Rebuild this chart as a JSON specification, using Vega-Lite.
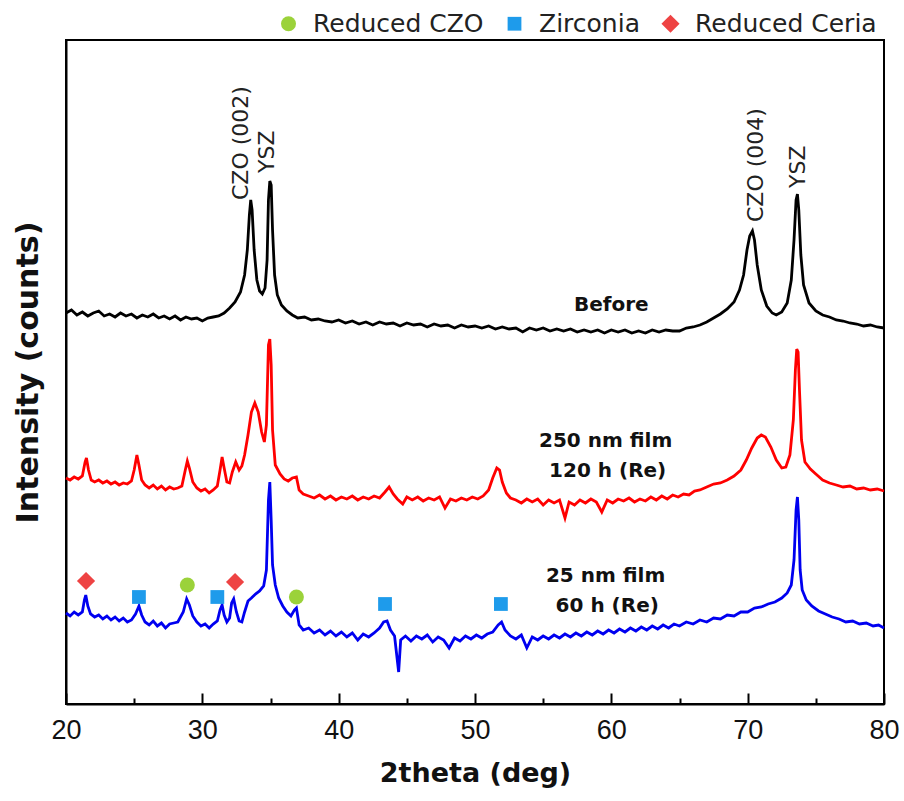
{
"$schema": "https://vega.github.io/schema/vega-lite/v6.json",
"width": 818, "height": 664,
"autosize": "none",
"padding": {"left": 66, "top": 40, "right": 20, "bottom": 97},
"background": "white",
"datasets": {
"curves": [
{"s":"Before","x":20.0,"y":391},{"s":"Before","x":20.4,"y":394},{"s":"Before","x":20.8,"y":389},{"s":"Before","x":21.2,"y":392},{"s":"Before","x":21.6,"y":388},{"s":"Before","x":22.0,"y":391},{"s":"Before","x":22.4,"y":393},{"s":"Before","x":22.8,"y":388},{"s":"Before","x":23.2,"y":390},{"s":"Before","x":23.6,"y":387},{"s":"Before","x":24.0,"y":391},{"s":"Before","x":24.4,"y":388},{"s":"Before","x":24.8,"y":390},{"s":"Before","x":25.2,"y":386},{"s":"Before","x":25.6,"y":389},{"s":"Before","x":26.0,"y":387},{"s":"Before","x":26.4,"y":390},{"s":"Before","x":26.8,"y":386},{"s":"Before","x":27.2,"y":388},{"s":"Before","x":27.6,"y":385},{"s":"Before","x":28.0,"y":388},{"s":"Before","x":28.4,"y":384},{"s":"Before","x":28.8,"y":387},{"s":"Before","x":29.2,"y":385},{"s":"Before","x":29.6,"y":386},{"s":"Before","x":30.0,"y":383},{"s":"Before","x":30.4,"y":386},{"s":"Before","x":30.8,"y":387},{"s":"Before","x":31.2,"y":388},{"s":"Before","x":31.6,"y":391},{"s":"Before","x":32.0,"y":396},{"s":"Before","x":32.4,"y":402},{"s":"Before","x":32.8,"y":412},{"s":"Before","x":33.1,"y":429},{"s":"Before","x":33.3,"y":454},{"s":"Before","x":33.45,"y":489},{"s":"Before","x":33.55,"y":504},{"s":"Before","x":33.65,"y":494},{"s":"Before","x":33.8,"y":454},{"s":"Before","x":34.0,"y":424},{"s":"Before","x":34.2,"y":413},{"s":"Before","x":34.4,"y":410},{"s":"Before","x":34.6,"y":416},{"s":"Before","x":34.75,"y":444},{"s":"Before","x":34.85,"y":504},{"s":"Before","x":34.95,"y":523},{"s":"Before","x":35.05,"y":519},{"s":"Before","x":35.15,"y":474},{"s":"Before","x":35.3,"y":429},{"s":"Before","x":35.5,"y":409},{"s":"Before","x":35.8,"y":399},{"s":"Before","x":36.2,"y":393},{"s":"Before","x":36.6,"y":389},{"s":"Before","x":37.0,"y":386},{"s":"Before","x":37.5,"y":387},{"s":"Before","x":38.0,"y":384},{"s":"Before","x":38.5,"y":385},{"s":"Before","x":39.0,"y":383},{"s":"Before","x":39.5,"y":382},{"s":"Before","x":40.0,"y":384},{"s":"Before","x":40.5,"y":381},{"s":"Before","x":41.0,"y":383},{"s":"Before","x":41.5,"y":380},{"s":"Before","x":42.0,"y":382},{"s":"Before","x":42.5,"y":379},{"s":"Before","x":43.0,"y":382},{"s":"Before","x":43.5,"y":380},{"s":"Before","x":44.0,"y":381},{"s":"Before","x":44.5,"y":378},{"s":"Before","x":45.0,"y":381},{"s":"Before","x":45.5,"y":379},{"s":"Before","x":46.0,"y":380},{"s":"Before","x":46.5,"y":377},{"s":"Before","x":47.0,"y":380},{"s":"Before","x":47.5,"y":378},{"s":"Before","x":48.0,"y":379},{"s":"Before","x":48.5,"y":376},{"s":"Before","x":49.0,"y":379},{"s":"Before","x":49.5,"y":377},{"s":"Before","x":50.0,"y":378},{"s":"Before","x":50.5,"y":376},{"s":"Before","x":51.0,"y":378},{"s":"Before","x":51.5,"y":375},{"s":"Before","x":52.0,"y":377},{"s":"Before","x":52.5,"y":375},{"s":"Before","x":53.0,"y":376},{"s":"Before","x":53.5,"y":372},{"s":"Before","x":54.0,"y":376},{"s":"Before","x":54.5,"y":374},{"s":"Before","x":55.0,"y":376},{"s":"Before","x":55.5,"y":373},{"s":"Before","x":56.0,"y":375},{"s":"Before","x":56.5,"y":373},{"s":"Before","x":57.0,"y":375},{"s":"Before","x":57.5,"y":372},{"s":"Before","x":58.0,"y":374},{"s":"Before","x":58.5,"y":372},{"s":"Before","x":59.0,"y":374},{"s":"Before","x":59.5,"y":371},{"s":"Before","x":60.0,"y":374},{"s":"Before","x":60.5,"y":372},{"s":"Before","x":61.0,"y":374},{"s":"Before","x":61.5,"y":371},{"s":"Before","x":62.0,"y":373},{"s":"Before","x":62.5,"y":371},{"s":"Before","x":63.0,"y":374},{"s":"Before","x":63.5,"y":372},{"s":"Before","x":64.0,"y":374},{"s":"Before","x":64.5,"y":373},{"s":"Before","x":65.0,"y":373},{"s":"Before","x":65.5,"y":376},{"s":"Before","x":66.0,"y":377},{"s":"Before","x":66.5,"y":379},{"s":"Before","x":67.0,"y":382},{"s":"Before","x":67.5,"y":386},{"s":"Before","x":68.0,"y":390},{"s":"Before","x":68.5,"y":395},{"s":"Before","x":69.0,"y":402},{"s":"Before","x":69.4,"y":414},{"s":"Before","x":69.7,"y":429},{"s":"Before","x":69.95,"y":454},{"s":"Before","x":70.15,"y":468},{"s":"Before","x":70.35,"y":473},{"s":"Before","x":70.5,"y":464},{"s":"Before","x":70.7,"y":439},{"s":"Before","x":71.0,"y":414},{"s":"Before","x":71.4,"y":398},{"s":"Before","x":71.8,"y":391},{"s":"Before","x":72.1,"y":389},{"s":"Before","x":72.5,"y":392},{"s":"Before","x":72.9,"y":401},{"s":"Before","x":73.2,"y":424},{"s":"Before","x":73.4,"y":464},{"s":"Before","x":73.55,"y":504},{"s":"Before","x":73.65,"y":510},{"s":"Before","x":73.75,"y":494},{"s":"Before","x":73.9,"y":449},{"s":"Before","x":74.1,"y":419},{"s":"Before","x":74.5,"y":401},{"s":"Before","x":75.0,"y":393},{"s":"Before","x":75.5,"y":389},{"s":"Before","x":76.0,"y":387},{"s":"Before","x":76.5,"y":384},{"s":"Before","x":77.0,"y":383},{"s":"Before","x":77.5,"y":381},{"s":"Before","x":78.0,"y":380},{"s":"Before","x":78.5,"y":378},{"s":"Before","x":79.0,"y":379},{"s":"Before","x":79.5,"y":377},{"s":"Before","x":80.0,"y":376},
{"s":"250 nm film","x":20.0,"y":226},{"s":"250 nm film","x":20.3,"y":224},{"s":"250 nm film","x":20.6,"y":227},{"s":"250 nm film","x":20.9,"y":225},{"s":"250 nm film","x":21.2,"y":228},{"s":"250 nm film","x":21.4,"y":242},{"s":"250 nm film","x":21.5,"y":246},{"s":"250 nm film","x":21.65,"y":234},{"s":"250 nm film","x":21.85,"y":224},{"s":"250 nm film","x":22.1,"y":222},{"s":"250 nm film","x":22.4,"y":224},{"s":"250 nm film","x":22.7,"y":221},{"s":"250 nm film","x":23.0,"y":223},{"s":"250 nm film","x":23.3,"y":220},{"s":"250 nm film","x":23.6,"y":222},{"s":"250 nm film","x":23.9,"y":219},{"s":"250 nm film","x":24.2,"y":221},{"s":"250 nm film","x":24.5,"y":220},{"s":"250 nm film","x":24.8,"y":223},{"s":"250 nm film","x":25.0,"y":234},{"s":"250 nm film","x":25.2,"y":249},{"s":"250 nm film","x":25.35,"y":239},{"s":"250 nm film","x":25.55,"y":224},{"s":"250 nm film","x":25.8,"y":219},{"s":"250 nm film","x":26.1,"y":216},{"s":"250 nm film","x":26.4,"y":219},{"s":"250 nm film","x":26.7,"y":215},{"s":"250 nm film","x":27.0,"y":218},{"s":"250 nm film","x":27.3,"y":214},{"s":"250 nm film","x":27.6,"y":217},{"s":"250 nm film","x":27.9,"y":215},{"s":"250 nm film","x":28.2,"y":216},{"s":"250 nm film","x":28.5,"y":218},{"s":"250 nm film","x":28.75,"y":234},{"s":"250 nm film","x":28.9,"y":243},{"s":"250 nm film","x":29.05,"y":236},{"s":"250 nm film","x":29.3,"y":222},{"s":"250 nm film","x":29.6,"y":216},{"s":"250 nm film","x":29.9,"y":213},{"s":"250 nm film","x":30.2,"y":215},{"s":"250 nm film","x":30.5,"y":211},{"s":"250 nm film","x":30.8,"y":214},{"s":"250 nm film","x":31.1,"y":218},{"s":"250 nm film","x":31.3,"y":234},{"s":"250 nm film","x":31.45,"y":247},{"s":"250 nm film","x":31.6,"y":236},{"s":"250 nm film","x":31.8,"y":222},{"s":"250 nm film","x":32.0,"y":221},{"s":"250 nm film","x":32.2,"y":232},{"s":"250 nm film","x":32.45,"y":242},{"s":"250 nm film","x":32.7,"y":234},{"s":"250 nm film","x":32.9,"y":238},{"s":"250 nm film","x":33.1,"y":249},{"s":"250 nm film","x":33.35,"y":269},{"s":"250 nm film","x":33.6,"y":292},{"s":"250 nm film","x":33.85,"y":301},{"s":"250 nm film","x":34.1,"y":292},{"s":"250 nm film","x":34.35,"y":272},{"s":"250 nm film","x":34.55,"y":262},{"s":"250 nm film","x":34.7,"y":279},{"s":"250 nm film","x":34.85,"y":359},{"s":"250 nm film","x":34.95,"y":365},{"s":"250 nm film","x":35.05,"y":339},{"s":"250 nm film","x":35.15,"y":274},{"s":"250 nm film","x":35.35,"y":239},{"s":"250 nm film","x":35.7,"y":230},{"s":"250 nm film","x":36.0,"y":225},{"s":"250 nm film","x":36.3,"y":223},{"s":"250 nm film","x":36.6,"y":226},{"s":"250 nm film","x":36.9,"y":227},{"s":"250 nm film","x":37.1,"y":214},{"s":"250 nm film","x":37.4,"y":210},{"s":"250 nm film","x":37.8,"y":208},{"s":"250 nm film","x":38.2,"y":206},{"s":"250 nm film","x":38.6,"y":209},{"s":"250 nm film","x":39.0,"y":205},{"s":"250 nm film","x":39.4,"y":208},{"s":"250 nm film","x":39.8,"y":204},{"s":"250 nm film","x":40.2,"y":207},{"s":"250 nm film","x":40.6,"y":205},{"s":"250 nm film","x":41.0,"y":208},{"s":"250 nm film","x":41.4,"y":204},{"s":"250 nm film","x":41.8,"y":207},{"s":"250 nm film","x":42.2,"y":205},{"s":"250 nm film","x":42.6,"y":208},{"s":"250 nm film","x":43.0,"y":206},{"s":"250 nm film","x":43.4,"y":212},{"s":"250 nm film","x":43.7,"y":217},{"s":"250 nm film","x":44.0,"y":210},{"s":"250 nm film","x":44.3,"y":205},{"s":"250 nm film","x":44.7,"y":200},{"s":"250 nm film","x":45.0,"y":207},{"s":"250 nm film","x":45.4,"y":204},{"s":"250 nm film","x":45.8,"y":207},{"s":"250 nm film","x":46.2,"y":203},{"s":"250 nm film","x":46.6,"y":206},{"s":"250 nm film","x":47.0,"y":204},{"s":"250 nm film","x":47.4,"y":207},{"s":"250 nm film","x":47.8,"y":196},{"s":"250 nm film","x":48.2,"y":205},{"s":"250 nm film","x":48.6,"y":203},{"s":"250 nm film","x":49.0,"y":206},{"s":"250 nm film","x":49.4,"y":204},{"s":"250 nm film","x":49.8,"y":207},{"s":"250 nm film","x":50.2,"y":205},{"s":"250 nm film","x":50.6,"y":208},{"s":"250 nm film","x":51.0,"y":214},{"s":"250 nm film","x":51.3,"y":226},{"s":"250 nm film","x":51.6,"y":236},{"s":"250 nm film","x":51.8,"y":234},{"s":"250 nm film","x":52.0,"y":222},{"s":"250 nm film","x":52.3,"y":211},{"s":"250 nm film","x":52.6,"y":206},{"s":"250 nm film","x":53.0,"y":204},{"s":"250 nm film","x":53.4,"y":201},{"s":"250 nm film","x":53.8,"y":205},{"s":"250 nm film","x":54.2,"y":202},{"s":"250 nm film","x":54.6,"y":205},{"s":"250 nm film","x":55.0,"y":199},{"s":"250 nm film","x":55.4,"y":204},{"s":"250 nm film","x":55.8,"y":201},{"s":"250 nm film","x":56.2,"y":204},{"s":"250 nm film","x":56.6,"y":186},{"s":"250 nm film","x":56.9,"y":202},{"s":"250 nm film","x":57.3,"y":199},{"s":"250 nm film","x":57.7,"y":204},{"s":"250 nm film","x":58.1,"y":201},{"s":"250 nm film","x":58.5,"y":205},{"s":"250 nm film","x":58.9,"y":202},{"s":"250 nm film","x":59.3,"y":192},{"s":"250 nm film","x":59.7,"y":204},{"s":"250 nm film","x":60.1,"y":201},{"s":"250 nm film","x":60.5,"y":205},{"s":"250 nm film","x":60.9,"y":203},{"s":"250 nm film","x":61.3,"y":206},{"s":"250 nm film","x":61.7,"y":202},{"s":"250 nm film","x":62.1,"y":205},{"s":"250 nm film","x":62.5,"y":203},{"s":"250 nm film","x":62.9,"y":207},{"s":"250 nm film","x":63.3,"y":204},{"s":"250 nm film","x":63.7,"y":208},{"s":"250 nm film","x":64.1,"y":205},{"s":"250 nm film","x":64.5,"y":209},{"s":"250 nm film","x":64.9,"y":207},{"s":"250 nm film","x":65.3,"y":210},{"s":"250 nm film","x":65.7,"y":209},{"s":"250 nm film","x":66.1,"y":213},{"s":"250 nm film","x":66.5,"y":214},{"s":"250 nm film","x":67.0,"y":217},{"s":"250 nm film","x":67.5,"y":220},{"s":"250 nm film","x":68.0,"y":221},{"s":"250 nm film","x":68.5,"y":224},{"s":"250 nm film","x":69.0,"y":228},{"s":"250 nm film","x":69.5,"y":234},{"s":"250 nm film","x":69.9,"y":244},{"s":"250 nm film","x":70.3,"y":256},{"s":"250 nm film","x":70.7,"y":266},{"s":"250 nm film","x":71.0,"y":269},{"s":"250 nm film","x":71.3,"y":267},{"s":"250 nm film","x":71.7,"y":257},{"s":"250 nm film","x":72.1,"y":244},{"s":"250 nm film","x":72.5,"y":236},{"s":"250 nm film","x":72.8,"y":237},{"s":"250 nm film","x":73.1,"y":249},{"s":"250 nm film","x":73.35,"y":284},{"s":"250 nm film","x":73.5,"y":334},{"s":"250 nm film","x":73.6,"y":355},{"s":"250 nm film","x":73.7,"y":352},{"s":"250 nm film","x":73.8,"y":314},{"s":"250 nm film","x":73.95,"y":264},{"s":"250 nm film","x":74.2,"y":242},{"s":"250 nm film","x":74.6,"y":235},{"s":"250 nm film","x":75.0,"y":230},{"s":"250 nm film","x":75.5,"y":224},{"s":"250 nm film","x":76.0,"y":221},{"s":"250 nm film","x":76.5,"y":219},{"s":"250 nm film","x":77.0,"y":217},{"s":"250 nm film","x":77.5,"y":218},{"s":"250 nm film","x":78.0,"y":215},{"s":"250 nm film","x":78.5,"y":216},{"s":"250 nm film","x":79.0,"y":214},{"s":"250 nm film","x":79.5,"y":215},{"s":"250 nm film","x":80.0,"y":213},
{"s":"25 nm film","x":20.0,"y":91},{"s":"25 nm film","x":20.3,"y":88},{"s":"25 nm film","x":20.6,"y":92},{"s":"25 nm film","x":20.9,"y":89},{"s":"25 nm film","x":21.2,"y":92},{"s":"25 nm film","x":21.35,"y":104},{"s":"25 nm film","x":21.45,"y":109},{"s":"25 nm film","x":21.6,"y":98},{"s":"25 nm film","x":21.8,"y":90},{"s":"25 nm film","x":22.1,"y":87},{"s":"25 nm film","x":22.4,"y":89},{"s":"25 nm film","x":22.7,"y":85},{"s":"25 nm film","x":23.0,"y":88},{"s":"25 nm film","x":23.3,"y":84},{"s":"25 nm film","x":23.6,"y":87},{"s":"25 nm film","x":23.9,"y":83},{"s":"25 nm film","x":24.2,"y":86},{"s":"25 nm film","x":24.5,"y":82},{"s":"25 nm film","x":24.8,"y":84},{"s":"25 nm film","x":25.1,"y":90},{"s":"25 nm film","x":25.35,"y":98},{"s":"25 nm film","x":25.55,"y":89},{"s":"25 nm film","x":25.8,"y":82},{"s":"25 nm film","x":26.1,"y":79},{"s":"25 nm film","x":26.4,"y":83},{"s":"25 nm film","x":26.7,"y":78},{"s":"25 nm film","x":27.0,"y":81},{"s":"25 nm film","x":27.3,"y":76},{"s":"25 nm film","x":27.6,"y":80},{"s":"25 nm film","x":27.9,"y":81},{"s":"25 nm film","x":28.2,"y":82},{"s":"25 nm film","x":28.6,"y":92},{"s":"25 nm film","x":28.85,"y":105},{"s":"25 nm film","x":29.05,"y":99},{"s":"25 nm film","x":29.3,"y":88},{"s":"25 nm film","x":29.6,"y":82},{"s":"25 nm film","x":29.9,"y":78},{"s":"25 nm film","x":30.2,"y":80},{"s":"25 nm film","x":30.5,"y":76},{"s":"25 nm film","x":30.8,"y":80},{"s":"25 nm film","x":31.1,"y":83},{"s":"25 nm film","x":31.3,"y":94},{"s":"25 nm film","x":31.45,"y":99},{"s":"25 nm film","x":31.6,"y":89},{"s":"25 nm film","x":31.8,"y":82},{"s":"25 nm film","x":32.0,"y":86},{"s":"25 nm film","x":32.15,"y":101},{"s":"25 nm film","x":32.3,"y":105},{"s":"25 nm film","x":32.5,"y":92},{"s":"25 nm film","x":32.7,"y":83},{"s":"25 nm film","x":32.9,"y":82},{"s":"25 nm film","x":33.1,"y":92},{"s":"25 nm film","x":33.35,"y":103},{"s":"25 nm film","x":33.6,"y":106},{"s":"25 nm film","x":33.9,"y":110},{"s":"25 nm film","x":34.2,"y":113},{"s":"25 nm film","x":34.5,"y":118},{"s":"25 nm film","x":34.7,"y":134},{"s":"25 nm film","x":34.85,"y":204},{"s":"25 nm film","x":34.95,"y":222},{"s":"25 nm film","x":35.05,"y":184},{"s":"25 nm film","x":35.15,"y":139},{"s":"25 nm film","x":35.35,"y":119},{"s":"25 nm film","x":35.6,"y":106},{"s":"25 nm film","x":35.9,"y":98},{"s":"25 nm film","x":36.2,"y":92},{"s":"25 nm film","x":36.5,"y":88},{"s":"25 nm film","x":36.75,"y":94},{"s":"25 nm film","x":36.9,"y":96},{"s":"25 nm film","x":37.1,"y":79},{"s":"25 nm film","x":37.4,"y":74},{"s":"25 nm film","x":37.8,"y":76},{"s":"25 nm film","x":38.2,"y":71},{"s":"25 nm film","x":38.6,"y":74},{"s":"25 nm film","x":39.0,"y":69},{"s":"25 nm film","x":39.4,"y":73},{"s":"25 nm film","x":39.8,"y":68},{"s":"25 nm film","x":40.2,"y":72},{"s":"25 nm film","x":40.6,"y":67},{"s":"25 nm film","x":41.0,"y":71},{"s":"25 nm film","x":41.4,"y":64},{"s":"25 nm film","x":41.8,"y":70},{"s":"25 nm film","x":42.2,"y":67},{"s":"25 nm film","x":42.6,"y":71},{"s":"25 nm film","x":43.0,"y":76},{"s":"25 nm film","x":43.3,"y":82},{"s":"25 nm film","x":43.55,"y":83},{"s":"25 nm film","x":43.8,"y":74},{"s":"25 nm film","x":44.1,"y":68},{"s":"25 nm film","x":44.4,"y":32},{"s":"25 nm film","x":44.55,"y":64},{"s":"25 nm film","x":44.9,"y":68},{"s":"25 nm film","x":45.3,"y":63},{"s":"25 nm film","x":45.7,"y":68},{"s":"25 nm film","x":46.1,"y":65},{"s":"25 nm film","x":46.5,"y":69},{"s":"25 nm film","x":46.9,"y":62},{"s":"25 nm film","x":47.3,"y":67},{"s":"25 nm film","x":47.7,"y":64},{"s":"25 nm film","x":48.1,"y":56},{"s":"25 nm film","x":48.5,"y":66},{"s":"25 nm film","x":48.9,"y":63},{"s":"25 nm film","x":49.3,"y":68},{"s":"25 nm film","x":49.7,"y":65},{"s":"25 nm film","x":50.1,"y":69},{"s":"25 nm film","x":50.5,"y":66},{"s":"25 nm film","x":50.9,"y":70},{"s":"25 nm film","x":51.3,"y":72},{"s":"25 nm film","x":51.7,"y":79},{"s":"25 nm film","x":51.95,"y":82},{"s":"25 nm film","x":52.2,"y":74},{"s":"25 nm film","x":52.6,"y":68},{"s":"25 nm film","x":53.0,"y":65},{"s":"25 nm film","x":53.4,"y":69},{"s":"25 nm film","x":53.8,"y":56},{"s":"25 nm film","x":54.2,"y":67},{"s":"25 nm film","x":54.6,"y":64},{"s":"25 nm film","x":55.0,"y":68},{"s":"25 nm film","x":55.4,"y":65},{"s":"25 nm film","x":55.8,"y":69},{"s":"25 nm film","x":56.2,"y":66},{"s":"25 nm film","x":56.6,"y":70},{"s":"25 nm film","x":57.0,"y":67},{"s":"25 nm film","x":57.4,"y":71},{"s":"25 nm film","x":57.8,"y":68},{"s":"25 nm film","x":58.2,"y":72},{"s":"25 nm film","x":58.6,"y":69},{"s":"25 nm film","x":59.0,"y":73},{"s":"25 nm film","x":59.4,"y":70},{"s":"25 nm film","x":59.8,"y":74},{"s":"25 nm film","x":60.2,"y":71},{"s":"25 nm film","x":60.6,"y":75},{"s":"25 nm film","x":61.0,"y":72},{"s":"25 nm film","x":61.4,"y":76},{"s":"25 nm film","x":61.8,"y":73},{"s":"25 nm film","x":62.2,"y":77},{"s":"25 nm film","x":62.6,"y":74},{"s":"25 nm film","x":63.0,"y":78},{"s":"25 nm film","x":63.4,"y":75},{"s":"25 nm film","x":63.8,"y":79},{"s":"25 nm film","x":64.2,"y":76},{"s":"25 nm film","x":64.6,"y":80},{"s":"25 nm film","x":65.0,"y":78},{"s":"25 nm film","x":65.5,"y":82},{"s":"25 nm film","x":66.0,"y":80},{"s":"25 nm film","x":66.5,"y":84},{"s":"25 nm film","x":67.0,"y":82},{"s":"25 nm film","x":67.5,"y":86},{"s":"25 nm film","x":68.0,"y":85},{"s":"25 nm film","x":68.5,"y":89},{"s":"25 nm film","x":69.0,"y":88},{"s":"25 nm film","x":69.5,"y":92},{"s":"25 nm film","x":70.0,"y":92},{"s":"25 nm film","x":70.5,"y":96},{"s":"25 nm film","x":71.0,"y":97},{"s":"25 nm film","x":71.5,"y":100},{"s":"25 nm film","x":72.0,"y":102},{"s":"25 nm film","x":72.5,"y":106},{"s":"25 nm film","x":72.9,"y":111},{"s":"25 nm film","x":73.2,"y":119},{"s":"25 nm film","x":73.4,"y":144},{"s":"25 nm film","x":73.55,"y":194},{"s":"25 nm film","x":73.65,"y":207},{"s":"25 nm film","x":73.75,"y":184},{"s":"25 nm film","x":73.85,"y":134},{"s":"25 nm film","x":74.0,"y":114},{"s":"25 nm film","x":74.3,"y":104},{"s":"25 nm film","x":74.7,"y":98},{"s":"25 nm film","x":75.2,"y":93},{"s":"25 nm film","x":75.7,"y":90},{"s":"25 nm film","x":76.2,"y":87},{"s":"25 nm film","x":76.7,"y":85},{"s":"25 nm film","x":77.2,"y":82},{"s":"25 nm film","x":77.7,"y":83},{"s":"25 nm film","x":78.2,"y":80},{"s":"25 nm film","x":78.7,"y":81},{"s":"25 nm film","x":79.2,"y":78},{"s":"25 nm film","x":79.6,"y":79},{"s":"25 nm film","x":80.0,"y":76}
],
"markers": [
{"phase":"Reduced Ceria","x":21.47,"y":123},
{"phase":"Zirconia","x":25.35,"y":107},
{"phase":"Reduced CZO","x":28.9,"y":119},
{"phase":"Zirconia","x":31.1,"y":107},
{"phase":"Reduced Ceria","x":32.4,"y":122},
{"phase":"Reduced CZO","x":36.9,"y":107},
{"phase":"Zirconia","x":43.4,"y":100},
{"phase":"Zirconia","x":51.9,"y":100}
],
"peaks": [
{"t":"CZO (002)","x":32.84,"y":504},
{"t":"YSZ","x":34.71,"y":531},
{"t":"CZO (004)","x":70.62,"y":482},
{"t":"YSZ","x":73.7,"y":516}
],
"samples": [
{"t":"Before","x":60.0,"y":393},
{"t":"250 nm film","x":59.58,"y":257},
{"t":"120 h (Re)","x":59.73,"y":227},
{"t":"25 nm film","x":59.58,"y":122},
{"t":"60 h (Re)","x":59.7,"y":92}
]
},
"layer": [
{
"data": {"name": "curves"},
"mark": {"type": "line", "strokeWidth": 2.8, "strokeJoin": "miter"},
"encoding": {
"x": {"field": "x", "type": "quantitative", "scale": {"domain": [20, 80], "nice": false, "zero": false},
 "axis": {"title": "2theta (deg)", "values": [20,25,30,35,40,45,50,55,60,65,70,75,80],
  "labelExpr": "datum.value % 10 === 0 ? datum.label : ''",
  "tickSize": {"condition": {"test": "datum.value % 10 === 0", "value": -11}, "value": -6},
  "tickWidth": 2, "tickColor": "#000", "domainColor": "#000", "domainWidth": 2, "grid": false,
  "labelFont": "Liberation Sans", "labelFontSize": 27, "labelColor": "#111", "labelPadding": 24,
  "labelFlush": false, "labelOverlap": false,
  "titleFont": "DejaVu Sans", "titleFontWeight": "bold", "titleFontSize": 27, "titleColor": "#111", "titlePadding": 12}},
"y": {"field": "y", "type": "quantitative", "scale": {"domain": [0, 664], "nice": false},
 "axis": {"title": "Intensity (counts)", "ticks": false, "labels": false, "grid": false,
  "domainColor": "#000", "domainWidth": 2,
  "titleFont": "DejaVu Sans", "titleFontWeight": "bold", "titleFontSize": 30, "titleColor": "#111", "titlePadding": 23}},
"color": {"field": "s", "type": "nominal", "scale": {"domain": ["Before", "250 nm film", "25 nm film"], "range": ["#000000", "#FF0000", "#0000F0"]}, "legend": null}
}
},
{
"data": {"name": "markers"},
"mark": {"type": "point", "filled": true, "opacity": 1, "strokeWidth": 0},
"encoding": {
"x": {"field": "x", "type": "quantitative"},
"y": {"field": "y", "type": "quantitative"},
"fill": {"field": "phase", "type": "nominal", "title": null,
 "scale": {"domain": ["Reduced CZO", "Zirconia", "Reduced Ceria"], "range": ["#9BD23A", "#1E9BEB", "#EE4343"]},
 "legend": {"orient": "none", "legendX": 210, "legendY": -29, "direction": "horizontal"}},
"shape": {"field": "phase", "type": "nominal", "title": null,
 "scale": {"domain": ["Reduced CZO", "Zirconia", "Reduced Ceria"], "range": ["circle", "square", "diamond"]},
 "legend": {"orient": "none", "legendX": 210, "legendY": -29, "direction": "horizontal"}},
"size": {"field": "phase", "type": "nominal", "title": null,
 "scale": {"type": "ordinal", "domain": ["Reduced CZO", "Zirconia", "Reduced Ceria"], "range": [225, 190, 330]},
 "legend": {"orient": "none", "legendX": 210, "legendY": -29, "direction": "horizontal"}}
}
},
{
"data": {"name": "peaks"},
"mark": {"type": "text", "angle": 270, "align": "left", "baseline": "middle", "font": "DejaVu Sans", "fontSize": 22, "color": "#222"},
"encoding": {
"x": {"field": "x", "type": "quantitative"},
"y": {"field": "y", "type": "quantitative"},
"text": {"field": "t", "type": "nominal"}
}
},
{
"data": {"name": "samples"},
"mark": {"type": "text", "align": "center", "baseline": "alphabetic", "font": "DejaVu Sans", "fontWeight": "bold", "fontSize": 20, "color": "#111"},
"encoding": {
"x": {"field": "x", "type": "quantitative"},
"y": {"field": "y", "type": "quantitative"},
"text": {"field": "t", "type": "nominal"}
}
}
],
"config": {
"view": {"stroke": "#000", "strokeWidth": 2},
"legend": {"labelFont": "DejaVu Sans", "labelFontSize": 25, "labelColor": "#222", "labelOffset": 12, "columnPadding": 18, "padding": 0, "symbolStrokeWidth": 0, "labelLimit": 400}
}
}
